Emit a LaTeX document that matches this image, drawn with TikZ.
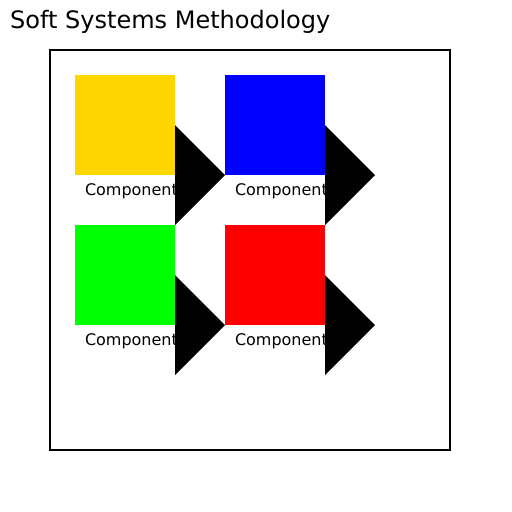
\documentclass[tikz,border=0pt]{standalone}
\usepackage{fontspec}
\setmainfont{DejaVu Sans}
\definecolor{cyellow}{HTML}{FFD700}
\definecolor{cblue}{HTML}{0000FF}
\definecolor{cgreen}{HTML}{00FF00}
\definecolor{cred}{HTML}{FF0000}
\begin{document}
\begin{tikzpicture}[x=1pt,y=-1pt,
  square/.style={minimum width=100pt,minimum height=100pt,inner sep=0pt,outer sep=0pt,draw=none},
  lbl/.style={anchor=base west,inner sep=0pt,font=\fontsize{16}{18}\selectfont},
  arrowtri/.style={fill=black,draw=none}]
\useasboundingbox[fill=white] (0,0) rectangle (512,512);
\node[anchor=base west,inner sep=0pt,font=\fontsize{24}{28}\selectfont] (title) at (10,28.5) {Soft Systems Methodology};
\node[draw=black,line width=2pt,minimum width=400pt,minimum height=400pt,inner sep=0pt] (frame) at (250,250) {};
\node[square,fill=cyellow] (ys) at (125,125) {};
\node[square,fill=cblue] (bs) at (275,125) {};
\node[square,fill=cgreen] (gs) at (125,275) {};
\node[square,fill=cred] (rs) at (275,275) {};
\node[lbl] (yl) at (84.8,195.5) {Component};
\node[lbl] (bl) at (234.8,195.5) {Component};
\node[lbl] (gl) at (84.8,345.5) {Component};
\node[lbl] (rl) at (234.8,345.5) {Component};
\foreach \s in {ys,bs,gs,rs}
  \fill[arrowtri] (\s.east) -- ++(50,50) -- ++(-50,50) -- cycle;
\end{tikzpicture}
\end{document}
